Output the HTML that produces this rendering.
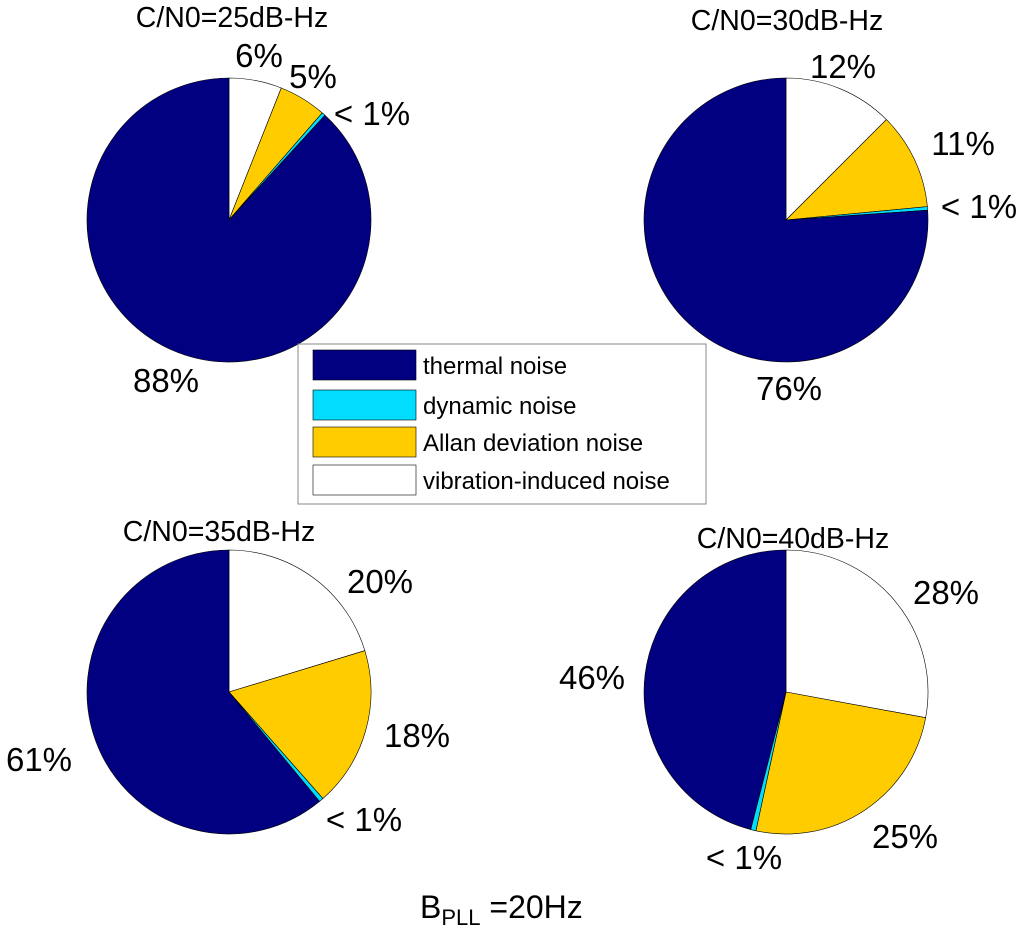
<!DOCTYPE html>
<html><head><meta charset="utf-8"><style>
body{margin:0;background:#fff}
svg text{font-family:"Liberation Sans",Arial,sans-serif;fill:#000}
</style></head><body>
<svg id="c" width="1024" height="930" viewBox="0 0 1024 930" xmlns="http://www.w3.org/2000/svg"></svg>
<script>
const categories=["vibration-induced noise","Allan deviation noise","dynamic noise","thermal noise"];
const colors=["#ffffff","#ffcc00","#00ddff","#000080"];
const titles=["C/N0=25dB-Hz","C/N0=30dB-Hz","C/N0=35dB-Hz","C/N0=40dB-Hz"];
const vib=[6.0,12.5,20.3,27.9];
const allan=[5.4,11.0,18.2,25.5];
const dyn=[0.4,0.4,0.5,0.6];
const thermal=[88.2,76.1,61.0,46.0];
const labels=[["6%","5%","< 1%","88%"],["12%","11%","< 1%","76%"],["20%","18%","< 1%","61%"],["28%","25%","< 1%","46%"]];
const centers=[[229,220],[786,220],[229,692],[786,692]];
const labelPos=[[[259,67],[313,88],[372,125],[166,392]],[[843,78],[963,155],[979,218],[789,400]],[[380,593],[417,747],[364,831],[39,771]],[[946,604],[905,848],[744,869],[592,689]]];
const titlePos=[[232,27],[787,30],[219,541],[793,548]];
const R=142;
const svg=document.getElementById('c');
const NS="http://www.w3.org/2000/svg";
function mk(t,a){const e=document.createElementNS(NS,t);for(const k in a)e.setAttribute(k,a[k]);svg.appendChild(e);return e;}
function pt(cx,cy,f){const a=f*2*Math.PI;return [cx+R*Math.sin(a),cy-R*Math.cos(a)];}
for(let p=0;p<4;p++){
  const vals=[vib[p],allan[p],dyn[p],thermal[p]];
  const tot=vals.reduce((a,b)=>a+b,0);
  let acc=0;const [cx,cy]=centers[p];
  for(let i=0;i<4;i++){
    const f0=acc/tot,f1=(acc+vals[i])/tot;acc+=vals[i];
    const [x0,y0]=pt(cx,cy,f0),[x1,y1]=pt(cx,cy,f1);
    const large=(f1-f0)>0.5?1:0;
    const path=mk('path',{d:`M${cx},${cy}L${x0},${y0}A${R},${R} 0 ${large} 1 ${x1},${y1}Z`,fill:colors[i],stroke:'#000','stroke-width':0.6});
    
    
    const t=mk('text',{x:labelPos[p][i][0],y:labelPos[p][i][1],'font-size':33,'text-anchor':'middle'});
    t.textContent=labels[p][i];
    
    
  }
  const tt=mk('text',{x:titlePos[p][0],y:titlePos[p][1],'font-size':28.5,'text-anchor':'middle'});
  tt.textContent=titles[p];
  
  
}
const lg=mk('rect',{x:298,y:344,width:408,height:160,fill:'#fff',stroke:'#888','stroke-width':1});


const order=[3,2,1,0];const ly=[350,390,427,465];
for(let j=0;j<4;j++){
  const i=order[j];
  const r=mk('rect',{x:313,y:ly[j],width:103,height:30,fill:colors[i],stroke:'#000','stroke-width':0.6});
  
  
  const t=mk('text',{x:423,y:ly[j]+24,'font-size':24});
  t.textContent=categories[i];
  
  
}
const b=mk('text',{x:420,y:918,'font-size':32});
b.innerHTML='B<tspan font-size="22" dy="7">PLL</tspan><tspan dy="-7"> =20Hz</tspan>';


</script>
</body></html>
